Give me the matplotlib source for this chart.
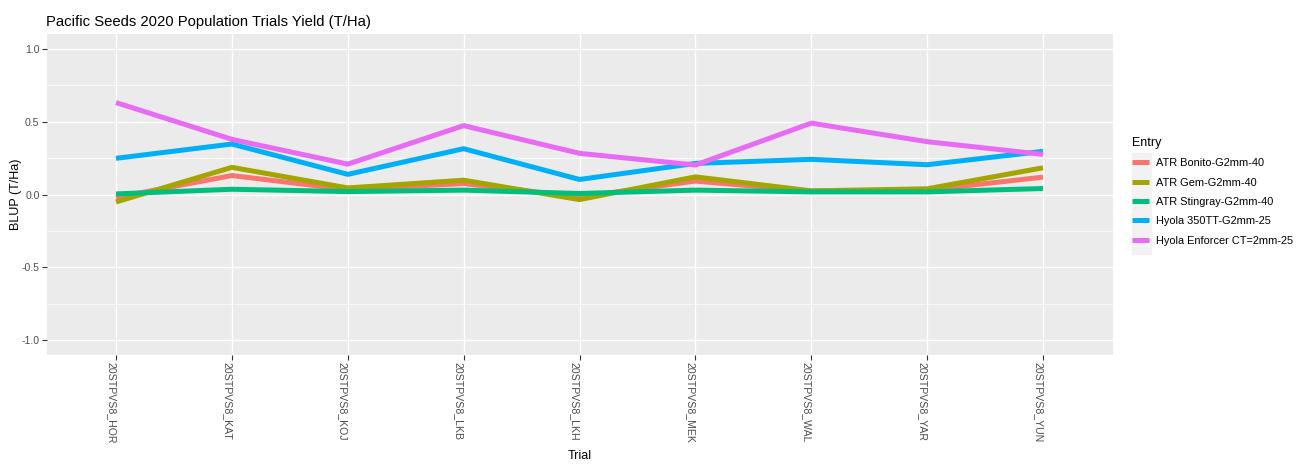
import matplotlib as mpl
mpl.use('Agg')
import matplotlib.pyplot as plt
from matplotlib.ticker import FixedLocator
from matplotlib.patches import Rectangle

plt.rcParams['font.family'] = ['Liberation Sans', 'DejaVu Sans']

trials = ['20STPVS8_HOR', '20STPVS8_KAT', '20STPVS8_KOJ', '20STPVS8_LKB',
          '20STPVS8_LKH', '20STPVS8_MEK', '20STPVS8_WAL', '20STPVS8_YAR',
          '20STPVS8_YUN']

entries = ['ATR Bonito-G2mm-40', 'ATR Gem-G2mm-40', 'ATR Stingray-G2mm-40',
           'Hyola 350TT-G2mm-25', 'Hyola Enforcer CT=2mm-25']

bonito = [-0.02, 0.13, 0.034, 0.075, -0.017, 0.092, 0.023, 0.03, 0.119]
gem = [-0.051, 0.186, 0.045, 0.098, -0.035, 0.121, 0.025, 0.039, 0.183]
stingray = [0.004, 0.036, 0.02, 0.03, 0.007, 0.03, 0.018, 0.018, 0.041]
hyola_350tt = [0.248, 0.346, 0.138, 0.314, 0.103, 0.213, 0.241, 0.204, 0.296]
enforcer = [0.63, 0.378, 0.208, 0.472, 0.282, 0.202, 0.489, 0.362, 0.275]

series = [bonito, gem, stingray, hyola_350tt, enforcer]
colours = ['#F8766D', '#A3A500', '#00BF7D', '#00B0F6', '#E76BF3']

W, H = 1304, 469
fig = plt.figure(figsize=(W / 100, H / 100), dpi=100)
ax = fig.add_axes([46.5 / W, 1 - 355 / H, (1112.5 - 46.5) / W, (355 - 34) / H])
ax.set_facecolor('#EBEBEB')

x = list(range(len(trials)))
lines = []
for vals, col, name in zip(series, colours, entries):
    ln, = ax.plot(x, vals, color=col, lw=3.6, label=name, solid_capstyle='butt',
                  solid_joinstyle='round')
    lines.append(ln)

ax.set_xlim(-0.6, len(trials) - 1 + 0.6)
ax.set_ylim(-1.1, 1.1)
ax.set_xticks(x)
ax.set_xticklabels(trials, rotation=270, va='top', ha='right')
ax.set_yticks([-1.0, -0.5, 0.0, 0.5, 1.0])
ax.set_yticklabels(['-1.0', '-0.5', '0.0', '0.5', '1.0'])
ax.yaxis.set_minor_locator(FixedLocator([-0.75, -0.25, 0.25, 0.75]))

ax.grid(which='major', color='white', lw=1.0)
ax.grid(which='minor', axis='y', color='white', lw=0.5)
ax.set_axisbelow(True)
for s in ax.spines.values():
    s.set_visible(False)
ax.tick_params(axis='both', which='major', length=3.5, width=0.8, color='#333333',
               labelcolor='#4D4D4D', labelsize=7.6, pad=1.5)
ax.tick_params(axis='y', which='minor', length=0)

ax.set_xlabel('Trial', fontsize=9, labelpad=5)
ax.set_ylabel('BLUP (T/Ha)', fontsize=9, labelpad=0)
fig.text(46 / W, 1 - 22 / H, 'Pacific Seeds 2020 Population Trials Yield (T/Ha)',
         fontsize=10.7, ha='left', va='center')

# grey background behind legend keys
fig.patches.append(Rectangle((1132 / W, 1 - 254 / H), 19 / W, 101 / H,
                             transform=fig.transFigure, color='#F2F2F2', zorder=0))

leg = fig.legend(handles=lines, labels=entries, title='Entry', loc='upper left',
                 bbox_to_anchor=(1132 / W, 1 - 137 / H), frameon=False,
                 fontsize=7.9, title_fontsize=9, handlelength=1.55, handletextpad=0.65,
                 labelspacing=0.85, borderaxespad=0, borderpad=0)
leg._legend_box.align = 'left'

fig.savefig('out.png', dpi=100)
